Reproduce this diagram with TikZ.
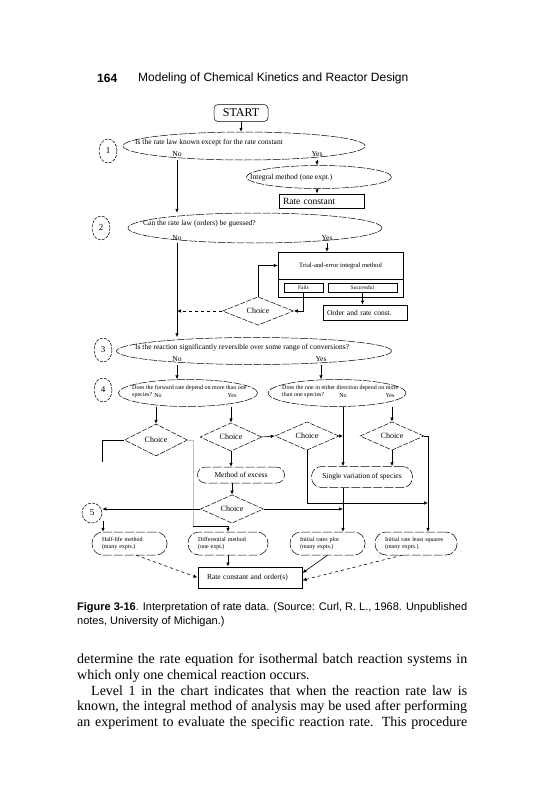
\documentclass[tikz,border=0pt]{standalone}
\usepackage{fontspec}
\setmainfont{Liberation Serif}
\setsansfont{Liberation Sans}
\usetikzlibrary{shapes.geometric, arrows.meta}

\newcommand{\askfont}{\fontsize{7.5}{9}\selectfont}
\newcommand{\minifont}{\fontsize{6}{7}\selectfont}

\tikzset{
  flow/.style={-{Latex[length=4pt,width=3.5pt]}, line width=0.6pt},
  askoval/.style={ellipse, draw, line width=0.5pt, dash pattern=on 8pt off 1.5pt, inner sep=0pt},
  lvl/.style={ellipse, draw, line width=0.5pt, dash pattern=on 3pt off 1.2pt, minimum width=18pt, minimum height=24pt, inner sep=0pt, font=\fontsize{9}{10}\selectfont},
  choicebox/.style={diamond, draw, line width=0.5pt, dash pattern=on 5pt off 1.5pt, inner sep=0pt, font=\fontsize{8}{9}\selectfont},
  result/.style={rectangle, draw, line width=1pt, inner xsep=4pt, inner ysep=0pt, align=left, font=\askfont},
  stadium/.style={rectangle, draw, line width=0.5pt, dash pattern=on 9pt off 2pt, inner ysep=0pt, align=left},
  txt/.style={inner sep=0pt, anchor=west, align=left},
  lab/.style={inner sep=0pt, font=\askfont},
  faded/.style={draw=black!25, line width=0.5pt},
}

\begin{document}
\begin{tikzpicture}[x=1pt, y=-1pt]
\path[fill=white] (0,0) rectangle (541,800);
\useasboundingbox (0,0) rectangle (541,800);

% Running head
\node[txt, font=\fontsize{12}{14}\selectfont\sffamily\bfseries] (pagenum) at (97,78) {164};
\node[txt, font=\fontsize{12}{14}\selectfont\sffamily] (runhead) at (138,78) {Modeling of Chemical Kinetics and Reactor Design};

% Start
\node[draw, rounded corners=4pt, line width=0.5pt, minimum width=54pt, minimum height=17pt, inner sep=0pt, font=\fontsize{12}{14}\selectfont] (start) at (241,113) {START};

% Level 1
\node[lvl] (lvl1) at (108,151) {1};
\node[askoval, minimum width=242pt, minimum height=28pt] (q1) at (244,146) {};
\node[txt, font=\askfont] (q1txt) at (135,143) {Is the rate law known except for the rate constant};
\node[lab] (no1) at (177,154) {No};
\node[lab] (yes1) at (317,154) {Yes};
\node[askoval, minimum width=145pt, minimum height=23pt] (integ) at (319,177) {};
\node[txt, font=\askfont] (integtxt) at (250,178) {Integral method (one expt.)};
\node[result, text width=77pt, minimum height=14pt, font=\fontsize{9.5}{11}\selectfont] (rc1) at (321.5,201) {Rate constant};

\draw[flow] (start.south) -- (q1.north -| start.south);
\draw[flow] (q1.south -| yes1) -- (integ.north -| yes1);
\draw[flow] (integ.south -| yes1) -- (rc1.north -| yes1);

% Level 2
\node[lvl] (lvl2) at (101,228) {2};
\node[askoval, minimum width=254pt, minimum height=30pt] (q2) at (255,228) {};
\node[txt, font=\askfont] (q2txt) at (143,224) {Can the rate law (orders) be guessed?};
\node[lab] (no2) at (177,238) {No};
\node[lab] (yes2) at (327,238) {Yes};
\node[draw, line width=0.5pt, minimum width=125pt, minimum height=27pt, inner sep=0pt, font=\fontsize{6.6}{8}\selectfont] (trialtop) at (340.5,265.5) {Trial-and-error integral method};
\node[draw, line width=0.5pt, minimum width=125pt, minimum height=18pt, inner sep=0pt] (trialbot) at (340.5,288) {};
\node[draw, line width=0.5pt, minimum width=39pt, minimum height=9pt, inner sep=0pt, font=\fontsize{5.5}{6}\selectfont] (fails) at (303.5,288) {Fails};
\node[draw, line width=0.5pt, minimum width=69pt, minimum height=9pt, inner sep=0pt, font=\fontsize{5.5}{6}\selectfont] (succ) at (362.5,288) {Successful};
\node[choicebox, minimum width=71pt, minimum height=27pt] (ch2) at (258,311) {Choice};
\node[result, text width=76pt, minimum height=15pt] (oc) at (365,312.5) {Order and rate const.};

\draw[flow] (q1.south -| no1) -- (q2.north -| no1);
\draw[flow] (q2.south -| yes2) -- (trialtop.north -| yes2);
\draw[flow] (succ.south) -- (oc.north -| succ.south);
\draw[flow] (fails.south) |- (ch2.east);
\draw[flow] (ch2.north) |- (trialtop.west);
\draw[flow, dashed] (ch2.west) -- (ch2.west -| no2);

% Level 3
\node[lvl] (lvl3) at (103,350) {3};
\node[askoval, minimum width=275pt, minimum height=27pt] (q3) at (254,351) {};
\node[txt, font=\askfont] (q3txt) at (135,348) {Is the reaction significantly reversible over some range of conversions?};
\node[lab] (no3) at (177,359) {No};
\node[lab] (yes3) at (321,359) {Yes};

\draw[flow] (q2.south -| no2) -- (q3.north -| no2);

% Level 4
\node[lvl] (lvl4) at (103,390) {4};
\node[askoval, minimum width=139pt, minimum height=27pt] (q4l) at (188,393) {};
\node[txt, font=\minifont] (q4ltxt) at (132,392) {Does the forward rate depend on more than one\\species?};
\node[lab, font=\minifont] (no4l) at (158,396) {No};
\node[lab, font=\minifont] (yes4l) at (232,396) {Yes};
\node[askoval, minimum width=138pt, minimum height=27pt] (q4r) at (337,393) {};
\node[txt, font=\minifont] (q4rtxt) at (282,392) {Does the rate in either direction depend on more\\than one species?};
\node[lab, font=\minifont] (no4r) at (343,396) {No};
\node[lab, font=\minifont] (yes4r) at (390,396) {Yes};

\draw[flow] (q3.south -| no3) -- (q4l.north -| no3);
\draw[flow] (q3.south -| yes3) -- (q4r.north -| yes3);

% Choices
\node[choicebox, minimum width=63pt, minimum height=32pt] (chA) at (156,440) {Choice};
\node[choicebox, minimum width=62pt, minimum height=26pt] (chB) at (231,437) {Choice};
\node[choicebox, minimum width=64pt, minimum height=24pt] (chC) at (307,436) {Choice};
\node[choicebox, minimum width=64pt, minimum height=24pt] (chD) at (392,436) {Choice};
\node[stadium, rounded corners=8pt, minimum width=87pt, minimum height=16pt, font=\askfont] (excess) at (241,475) {Method of excess};
\node[stadium, rounded corners=10pt, minimum width=101pt, minimum height=21pt, font=\askfont] (single) at (362,477) {Single variation of species};
\node[choicebox, minimum width=63pt, minimum height=28pt] (chE) at (232,509) {Choice};
\coordinate (astub) at (102,462);
\coordinate (dstub) at (193,526);
\coordinate (dcorner) at (428,436);
\coordinate (cjoin) at (428,503);

\draw[flow] (q4l.south -| chA.north) -- (chA.north);
\draw[flow] (q4l.south -| chB.north) -- (chB.north);
\draw[flow] (q4r.south -| no4r) -- (single.north -| no4r);
\draw[flow] (q4r.south -| chD.north) -- (chD.north);
\draw[flow] (chB.east) -- (chC.west);
\draw[flow] (chC.east) -- (chC.east -| no4r);
\draw[flow] (chC.south) |- (cjoin);
\draw[flow] (chD.south) -- (single.north -| chD.south);
\draw[flow] (chB.south) -- (excess.north -| chB.south);
\draw[flow] (excess.south -| chE.north) -- (chE.north);
\draw[line width=0.6pt] (chA.west) -| (astub);
\draw[faded] (chA.east) -| (dstub);

% Level 5
\node[lvl, minimum width=20pt, minimum height=20pt] (lvl5) at (92,513) {5};
\coordinate (fivedrop) at (103,521);
\node[stadium, rounded corners=11pt, minimum width=75pt, minimum height=23pt, inner xsep=10pt, text width=55pt, font=\minifont] (half) at (129.5,543.5) {Half-life method\\(many expts.)};
\node[stadium, rounded corners=11pt, minimum width=80pt, minimum height=23pt, inner xsep=10pt, text width=60pt, font=\minifont] (diff) at (228,543.5) {Differential method\\(one expt.)};
\node[stadium, rounded corners=11pt, minimum width=75pt, minimum height=23pt, inner xsep=10pt, text width=55pt, font=\minifont] (plot) at (327.5,543.5) {Initial rates plot\\(many expts.)};
\node[stadium, rounded corners=11pt, minimum width=82pt, minimum height=23pt, inner xsep=10pt, text width=62pt, font=\minifont] (lsq) at (416,543.5) {Initial rate least squares\\(many expts.)};
\node[result, text width=86pt, inner xsep=9pt, minimum height=21pt] (rco) at (250,577.5) {Rate constant and order(s)};

\draw[flow] (chE.west) -- (chE.west -| lvl5.east);
\draw[flow] (fivedrop) -- (half.north -| fivedrop);
\draw[flow] (chE.east) -- (chE.east -| no4r);
\draw[flow] (dstub) -| (diff.north);
\draw[flow] (chD.east) -- (dcorner) -- (lsq.north -| dcorner);
\draw[flow] (single.south -| no4r) -- (plot.north -| no4r);
\draw[flow] (diff.south) -- (rco.north -| diff.south);
\draw[flow, dashed] (half.300) -- (rco.west);
\draw[flow] (plot.south) -- (rco.5);
\draw[flow, dashed] (lsq.220) -- (rco.-3);

% Caption
\node[txt, font=\fontsize{11}{13}\selectfont\sffamily] (caption1) at (77,608) {\makebox[390pt][s]{\textbf{Figure 3-16}. Interpretation of rate data. (Source: Curl, R. L., 1968. Unpublished}};
\node[txt, font=\fontsize{11}{13}\selectfont\sffamily] (caption2) at (77,622) {notes, University of Michigan.)};

% Body text
\node[txt, font=\fontsize{14}{16}\selectfont] (body1) at (77,660) {\makebox[390pt][s]{determine the rate equation for isothermal batch reaction systems in}};
\node[txt, font=\fontsize{14}{16}\selectfont] (body2) at (77,676) {which only one chemical reaction occurs.};
\node[txt, font=\fontsize{14}{16}\selectfont] (body3) at (91,691) {\makebox[376pt][s]{Level 1 in the chart indicates that when the reaction rate law is}};
\node[txt, font=\fontsize{14}{16}\selectfont] (body4) at (77,707) {\makebox[390pt][s]{known, the integral method of analysis may be used after performing}};
\node[txt, font=\fontsize{14}{16}\selectfont] (body5) at (77,723) {\makebox[390pt][s]{an experiment to evaluate the specific reaction rate. This procedure}};
\end{tikzpicture}
\end{document}
